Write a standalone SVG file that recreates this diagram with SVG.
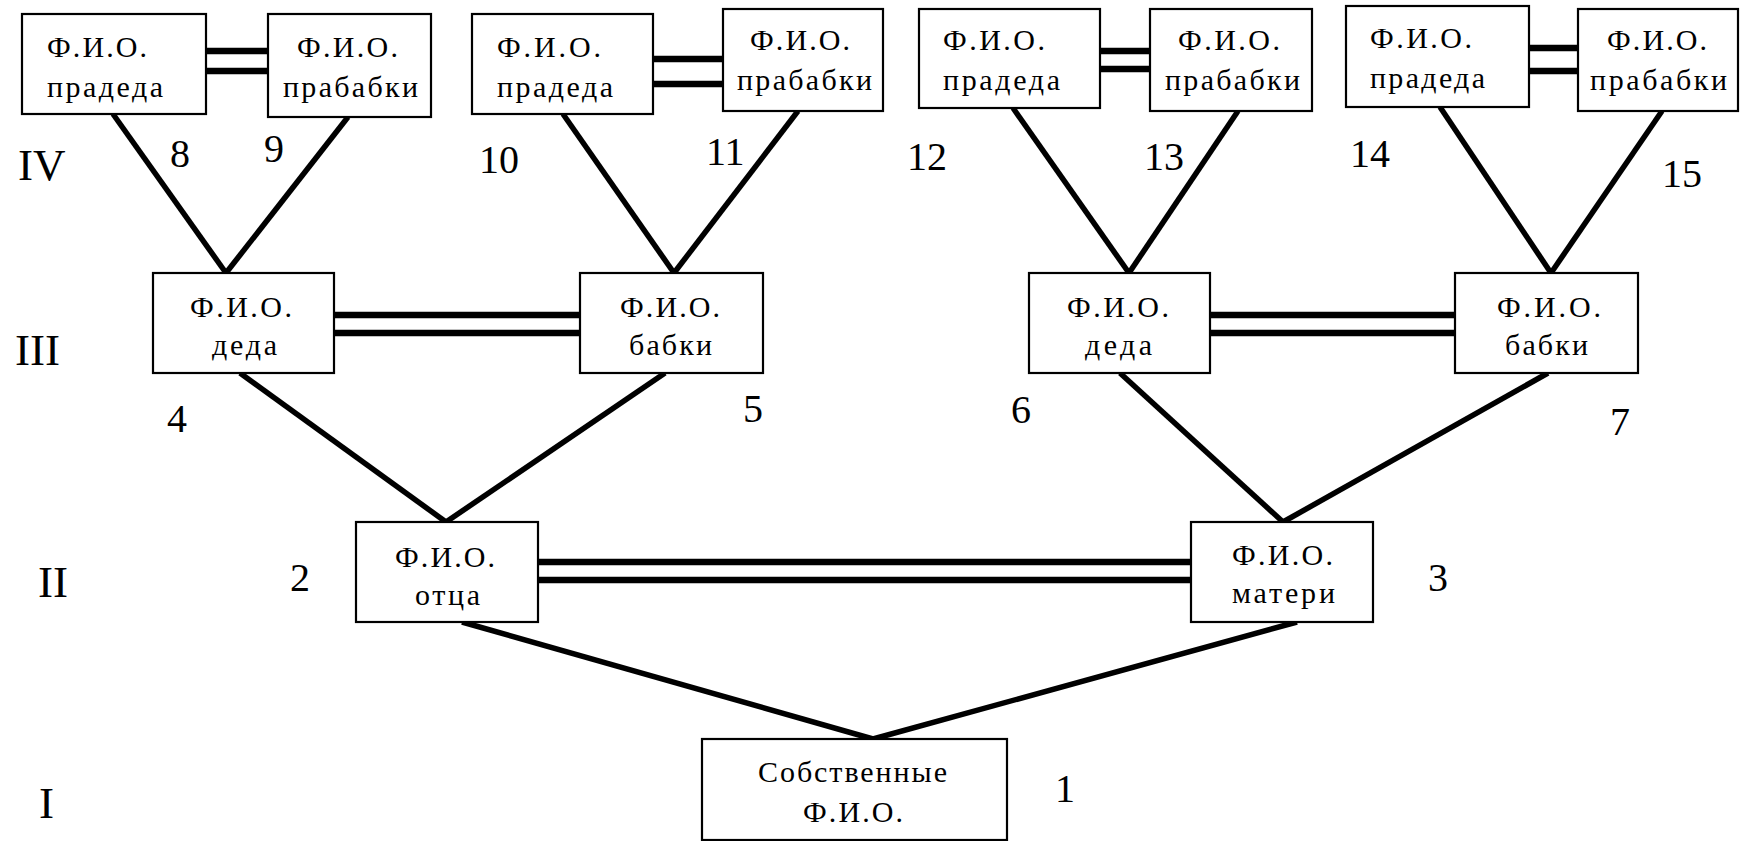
<svg xmlns="http://www.w3.org/2000/svg" width="1746" height="841" viewBox="0 0 1746 841">
<style>
.box{fill:#fff;stroke:#000;stroke-width:2.2}
text{font-family:"Liberation Serif","DejaVu Serif",serif;fill:#000}
.t{font-size:30px}
.n{font-size:40px}
.r{font-size:45px}
.c{stroke:#000;stroke-width:5.5;fill:none;stroke-linecap:butt}
.m{stroke:#000;stroke-width:6.5;fill:none}
</style>
<rect width="1746" height="841" fill="#fff"/>
<g id="connectors">
<line class="c" x1="113" y1="114" x2="226" y2="273"/>
<line class="c" x1="348" y1="117" x2="226" y2="273"/>
<line class="c" x1="563" y1="114" x2="674" y2="273"/>
<line class="c" x1="798" y1="111" x2="674" y2="273"/>
<line class="c" x1="1013" y1="108" x2="1129" y2="273"/>
<line class="c" x1="1238" y1="111" x2="1129" y2="273"/>
<line class="c" x1="1440" y1="107" x2="1551" y2="273"/>
<line class="c" x1="1662" y1="111" x2="1551" y2="273"/>
<line class="c" x1="240" y1="373" x2="446" y2="522"/>
<line class="c" x1="665" y1="373" x2="446" y2="522"/>
<line class="c" x1="1120" y1="373" x2="1283" y2="522"/>
<line class="c" x1="1548" y1="373" x2="1283" y2="522"/>
<line class="c" x1="462" y1="622" x2="873" y2="739"/>
<line class="c" x1="1297" y1="622" x2="873" y2="739"/>
<line class="m" x1="206" y1="51" x2="268" y2="51"/>
<line class="m" x1="206" y1="71" x2="268" y2="71"/>
<line class="m" x1="653" y1="59" x2="723" y2="59"/>
<line class="m" x1="653" y1="84" x2="723" y2="84"/>
<line class="m" x1="1100" y1="51" x2="1150" y2="51"/>
<line class="m" x1="1100" y1="69" x2="1150" y2="69"/>
<line class="m" x1="1529" y1="48" x2="1578" y2="48"/>
<line class="m" x1="1529" y1="71" x2="1578" y2="71"/>
<line class="m" x1="334" y1="315" x2="580" y2="315"/>
<line class="m" x1="334" y1="333" x2="580" y2="333"/>
<line class="m" x1="1210" y1="315" x2="1455" y2="315"/>
<line class="m" x1="1210" y1="333" x2="1455" y2="333"/>
<line class="m" x1="538" y1="562" x2="1191" y2="562"/>
<line class="m" x1="538" y1="580" x2="1191" y2="580"/>
</g>
<g id="n8"><rect class="box" x="22" y="14" width="184" height="100"/>
<text class="t" x="47" y="57" textLength="100" lengthAdjust="spacing">Ф.И.О.</text>
<text class="t" x="47" y="97" textLength="116" lengthAdjust="spacing">прадеда</text></g>
<g id="n9"><rect class="box" x="268" y="14" width="163" height="103"/>
<text class="t" x="297" y="57" textLength="101" lengthAdjust="spacing">Ф.И.О.</text>
<text class="t" x="283" y="97" textLength="135" lengthAdjust="spacing">прабабки</text></g>
<g id="n10"><rect class="box" x="472" y="14" width="181" height="100"/>
<text class="t" x="497" y="57" textLength="104" lengthAdjust="spacing">Ф.И.О.</text>
<text class="t" x="497" y="97" textLength="116" lengthAdjust="spacing">прадеда</text></g>
<g id="n11"><rect class="box" x="723" y="9" width="160" height="102"/>
<text class="t" x="750" y="50" textLength="100" lengthAdjust="spacing">Ф.И.О.</text>
<text class="t" x="737" y="90" textLength="135" lengthAdjust="spacing">прабабки</text></g>
<g id="n12"><rect class="box" x="919" y="9" width="181" height="99"/>
<text class="t" x="943" y="50" textLength="102" lengthAdjust="spacing">Ф.И.О.</text>
<text class="t" x="943" y="90" textLength="117" lengthAdjust="spacing">прадеда</text></g>
<g id="n13"><rect class="box" x="1150" y="9" width="162" height="102"/>
<text class="t" x="1178" y="50" textLength="102" lengthAdjust="spacing">Ф.И.О.</text>
<text class="t" x="1165" y="90" textLength="135" lengthAdjust="spacing">прабабки</text></g>
<g id="n14"><rect class="box" x="1346" y="6" width="183" height="101"/>
<text class="t" x="1370" y="48" textLength="102" lengthAdjust="spacing">Ф.И.О.</text>
<text class="t" x="1370" y="88" textLength="115" lengthAdjust="spacing">прадеда</text></g>
<g id="n15"><rect class="box" x="1578" y="9" width="160" height="102"/>
<text class="t" x="1607" y="50" textLength="100" lengthAdjust="spacing">Ф.И.О.</text>
<text class="t" x="1590" y="90" textLength="137" lengthAdjust="spacing">прабабки</text></g>
<g id="n4"><rect class="box" x="153" y="273" width="181" height="100"/>
<text class="t" x="190" y="317" textLength="102" lengthAdjust="spacing">Ф.И.О.</text>
<text class="t" x="212" y="355" textLength="65" lengthAdjust="spacing">деда</text></g>
<g id="n5"><rect class="box" x="580" y="273" width="183" height="100"/>
<text class="t" x="620" y="317" textLength="100" lengthAdjust="spacing">Ф.И.О.</text>
<text class="t" x="629" y="355" textLength="83" lengthAdjust="spacing">бабки</text></g>
<g id="n6"><rect class="box" x="1029" y="273" width="181" height="100"/>
<text class="t" x="1067" y="317" textLength="102" lengthAdjust="spacing">Ф.И.О.</text>
<text class="t" x="1085" y="355" textLength="67" lengthAdjust="spacing">деда</text></g>
<g id="n7"><rect class="box" x="1455" y="273" width="183" height="100"/>
<text class="t" x="1497" y="317" textLength="104" lengthAdjust="spacing">Ф.И.О.</text>
<text class="t" x="1505" y="355" textLength="83" lengthAdjust="spacing">бабки</text></g>
<g id="n2"><rect class="box" x="356" y="522" width="182" height="100"/>
<text class="t" x="395" y="567" textLength="100" lengthAdjust="spacing">Ф.И.О.</text>
<text class="t" x="415" y="605" textLength="65" lengthAdjust="spacing">отца</text></g>
<g id="n3"><rect class="box" x="1191" y="522" width="182" height="100"/>
<text class="t" x="1232" y="565" textLength="101" lengthAdjust="spacing">Ф.И.О.</text>
<text class="t" x="1232" y="603" textLength="103" lengthAdjust="spacing">матери</text></g>
<g id="n1"><rect class="box" x="702" y="739" width="305" height="101"/>
<text class="t" x="758" y="782" textLength="189" lengthAdjust="spacing">Собственные</text>
<text class="t" x="803" y="822" textLength="100" lengthAdjust="spacing">Ф.И.О.</text></g>
<g id="labels">
<text class="r" x="18" y="180">IV</text>
<text class="r" x="15" y="365">III</text>
<text class="r" x="38" y="597">II</text>
<text class="r" x="39" y="818">I</text>
<text class="n" x="170" y="167">8</text>
<text class="n" x="264" y="162">9</text>
<text class="n" x="479" y="173">10</text>
<text class="n" x="706" y="165">11</text>
<text class="n" x="907" y="170">12</text>
<text class="n" x="1144" y="170">13</text>
<text class="n" x="1350" y="167">14</text>
<text class="n" x="1662" y="187">15</text>
<text class="n" x="167" y="432">4</text>
<text class="n" x="743" y="422">5</text>
<text class="n" x="1011" y="423">6</text>
<text class="n" x="1610" y="435">7</text>
<text class="n" x="290" y="591">2</text>
<text class="n" x="1428" y="591">3</text>
<text class="n" x="1055" y="802">1</text>
</g>
</svg>
